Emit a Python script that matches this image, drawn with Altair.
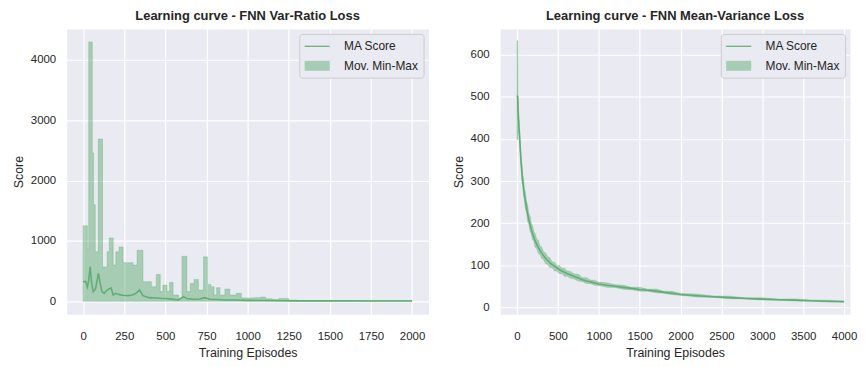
import altair as alt
import pandas as pd

GREEN = "#55A868"
BG = "#EAEAF2"
TXT = "#262626"
FONT = "Liberation Sans"
SERIES = ["MA Score", "Mov. Min-Max"]

# ---------------- left panel: FNN Var-Ratio Loss ----------------
left_title = "Learning curve - FNN Var-Ratio Loss"
left_x_ticks = [0, 250, 500, 750, 1000, 1250, 1500, 1750, 2000]
left_y_ticks = [0, 1000, 2000, 3000, 4000]

left_band_ep = [0, 26, 34, 56, 64, 74, 92, 118, 146, 159, 183, 199, 219, 243, 304, 328,
                364, 415, 445, 469, 485, 510, 526, 547, 581, 601, 631, 651, 675, 701,
                732, 756, 776, 796, 812, 832, 862, 892, 932, 962, 1040, 1080, 1110,
                1150, 1190, 1250, 1300, 2000]
left_band_hi = [1250, 870, 4300, 2460, 1600, 820, 2690, 570, 820, 1050, 600, 820, 900,
                640, 600, 845, 324, 240, 444, 160, 268, 160, 313, 104, 50, 746, 160, 296,
                362, 186, 736, 280, 240, 104, 225, 104, 203, 104, 132, 55, 60, 70, 40, 30,
                45, 20, 12, 8]

left_ma_ep = [0, 15, 26, 34, 43, 52, 62, 75, 93, 104, 115, 128, 146, 170, 183, 199, 220,
              243, 270, 300, 320, 344, 364, 400, 440, 470, 500, 540, 580, 610, 630, 670,
              710, 740, 770, 820, 870, 920, 960, 1000, 1100, 1200, 1300, 1500, 1750, 2000]
left_ma = [324, 330, 240, 350, 571, 300, 160, 200, 461, 296, 160, 132, 186, 222, 104, 132,
           110, 100, 93, 105, 130, 186, 93, 60, 55, 49, 45, 35, 22, 77, 45, 33, 38, 60, 33,
           28, 22, 20, 16, 15, 12, 9, 7, 6, 5, 5]

# ---------------- right panel: FNN Mean-Variance Loss ----------------
right_title = "Learning curve - FNN Mean-Variance Loss"
right_x_ticks = [0, 500, 1000, 1500, 2000, 2500, 3000, 3500, 4000]
right_y_ticks = [0, 100, 200, 300, 400, 500, 600]

right_ep = [0, 8, 12, 20, 30, 40, 50, 60, 70, 80, 90, 100, 115, 130, 145, 160, 175, 190,
            205, 220, 240, 260, 280, 300, 325, 350, 375, 400, 430, 460, 490, 520, 550,
            580, 610, 650, 700, 750, 800, 850, 900, 950, 1000, 1100, 1200, 1300, 1400,
            1500, 1600, 1700, 1800, 1900, 2000, 2200, 2400, 2600, 2800, 3000, 3200,
            3400, 3600, 3800, 4000]
right_ma = [503, 500, 470, 440, 410, 375, 345, 320, 300, 283, 268, 255, 238, 222, 208,
            196, 185, 175, 167, 158, 150, 142, 135, 129, 122, 116, 111, 106, 101, 97, 93,
            89, 86, 83, 80, 77, 73, 69, 65, 62, 60, 57.5, 55, 52, 49.5, 47, 44.5, 42, 40,
            38, 35, 33, 30, 27, 24.5, 22.5, 20.5, 19, 17.5, 16.5, 15, 14, 13]
right_lo = [398, 398, 420, 418, 395, 356, 331, 300, 289, 265, 256, 236, 226, 204, 197,
            180, 174, 160, 157, 143, 140, 128, 126, 116, 113, 103, 102, 94, 94, 86, 86,
            79, 80, 73, 74, 69, 67, 62, 61, 56, 56, 52, 51.5, 47, 46.5, 42.5, 41.5, 38,
            37.5, 34, 33, 29.5, 28, 24, 23, 20, 19.5, 17, 16.5, 14.5, 14, 12, 12]
right_hi = [634, 634, 505, 462, 426, 394, 358, 340, 314, 304, 281, 276, 253, 242, 222,
            216, 198, 194, 179, 176, 162, 159, 146, 143, 131, 129, 119, 118, 107, 107, 98,
            99, 92, 93, 86, 85, 79, 78, 70, 70, 64, 64, 59, 58, 53, 52, 47, 47, 42.5, 43,
            37.5, 37.5, 32.5, 31, 26.5, 26, 22, 22, 19, 19.5, 16.5, 16.5, 14]

# legend glyphs: a thin line for the MA score, a patch for the band
LEGEND_SHAPES = ["M-1.8,-0.1H1.8V0.1H-1.8Z", "M-1.8,-0.72H1.8V0.72H-1.8Z"]
LEGEND_OPACITY = [0.8, 0.45]

legend = alt.Legend(
    title=None, orient="top-right", offset=5, padding=5.5, fillColor=BG,
    strokeColor="#CCCCCC", cornerRadius=3, labelFont=FONT, labelFontSize=12,
    labelColor=TXT, labelOffset=20, symbolOffset=5.5, rowPadding=6.6, symbolSize=196,
    symbolStrokeWidth=0,
)


def panel(title, band_df, line_df, xdom, ydom, xticks, yticks, width, step, has_lo):
    x_enc = alt.X("ep:Q", scale=alt.Scale(domain=xdom, nice=False, zero=False),
                  axis=alt.Axis(values=xticks, title="Training Episodes", format="d",
                                labelPadding=16, titlePadding=5))
    y_axis = alt.Axis(values=yticks, title="Score", format="d", labelPadding=11, titlePadding=5)
    area = alt.Chart(band_df).mark_area(
        interpolate="step-after" if step else "linear",
        color=GREEN, fillOpacity=0.45, stroke=GREEN, strokeOpacity=0.3, strokeWidth=1,
    ).encode(
        x=x_enc,
        y=alt.Y("hi:Q", scale=alt.Scale(domain=ydom, nice=False, zero=False), axis=y_axis),
        y2=(alt.Y2("lo:Q") if has_lo else alt.datum(0)),
    )
    line = alt.Chart(line_df).mark_line(color=GREEN, strokeWidth=1.6, opacity=0.85).encode(
        x=alt.X("ep:Q"),
        y=alt.Y("ma:Q"),
    )
    key_df = pd.DataFrame({"series": SERIES, "ep": [line_df["ep"].iloc[0]] * 2,
                           "ma": [line_df["ma"].iloc[0]] * 2})
    key = alt.Chart(key_df).mark_point(filled=True, size=0.01).encode(
        x=alt.X("ep:Q"),
        y=alt.Y("ma:Q"),
        color=alt.Color("series:N", scale=alt.Scale(domain=SERIES, range=[GREEN, GREEN]),
                        legend=legend),
        shape=alt.Shape("series:N", scale=alt.Scale(domain=SERIES, range=LEGEND_SHAPES),
                        legend=legend),
        opacity=alt.Opacity("series:N", scale=alt.Scale(domain=SERIES, range=LEGEND_OPACITY),
                            legend=legend),
    )
    return alt.layer(area, line, key).properties(
        width=width, height=287,
        title=alt.Title(title, fontSize=13, fontWeight="bold", font=FONT, color=TXT, offset=6),
    )


left_band_df = pd.DataFrame({"ep": left_band_ep, "hi": left_band_hi})
left_line_df = pd.DataFrame({"ep": left_ma_ep, "ma": left_ma})
right_band_df = pd.DataFrame({"ep": right_ep, "lo": right_lo, "hi": right_hi})
right_line_df = pd.DataFrame({"ep": right_ep, "ma": right_ma})

left = panel(left_title, left_band_df, left_line_df, [-100, 2100], [-215, 4515],
             left_x_ticks, left_y_ticks, 364, True, False)
right = panel(right_title, right_band_df, right_line_df, [-207, 4073], [-17, 662],
              right_x_ticks, right_y_ticks, 352, False, True)

chart = alt.hconcat(left, right, spacing=22).resolve_scale(
    color="independent", shape="independent", opacity="independent"
).resolve_legend(
    color="independent", shape="independent", opacity="independent"
).properties(
    padding={"left": 3, "top": 0, "right": 0, "bottom": 0}
).configure_view(
    fill=BG, stroke="transparent"
).configure_axis(
    domain=False, ticks=False, grid=True, gridColor="white", gridWidth=1.2,
    labelFont=FONT, labelFontSize=11.5, labelColor=TXT,
    titleFont=FONT, titleFontSize=12.5, titleFontWeight="normal", titleColor=TXT,
)

chart.save("out.html", embed_options={"renderer": "svg", "actions": False})
